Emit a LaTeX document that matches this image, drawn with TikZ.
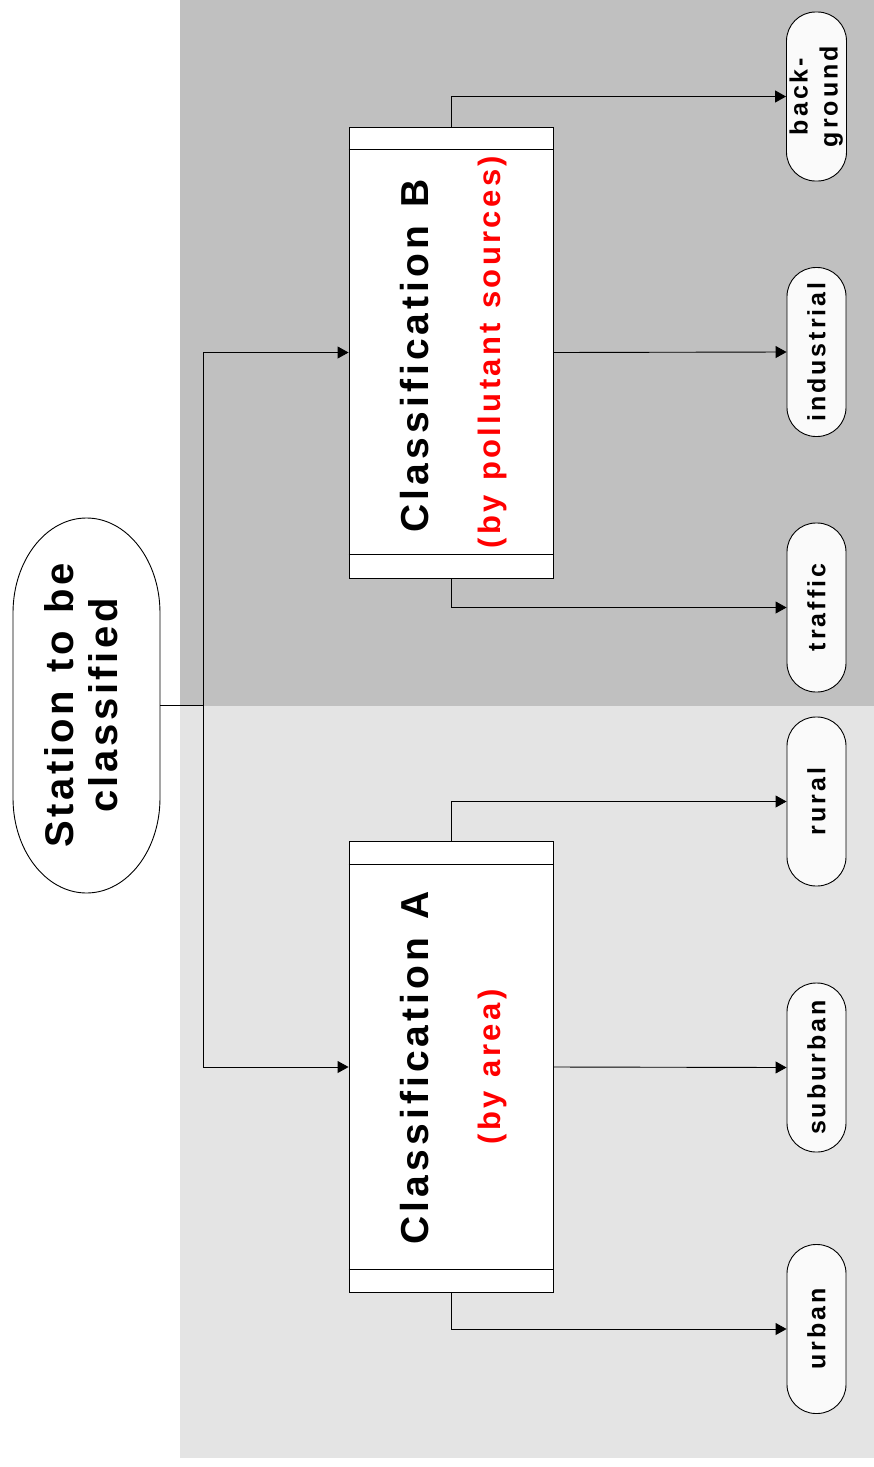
\documentclass[tikz,border=0pt]{standalone}
\usepackage{fontspec}
\setmainfont{Liberation Sans}
\usetikzlibrary{arrows.meta}
\definecolor{darkbg}{HTML}{C0C0C0}
\definecolor{lightbg}{HTML}{E4E4E4}
\definecolor{leaf}{HTML}{FAFAFA}
\newcommand{\rot}[1]{\rotatebox{90}{#1}}
\newcommand{\stfont}{\fontsize{40}{45}\selectfont\bfseries\addfontfeatures{LetterSpace=9}\spaceskip=0.45em\relax}
\newcommand{\ttlfont}{\fontsize{39}{44}\selectfont\bfseries\addfontfeatures{LetterSpace=10.5}\spaceskip=0.45em\relax}
\newcommand{\subfont}{\fontsize{31}{36}\selectfont\bfseries\addfontfeatures{LetterSpace=11}\spaceskip=0.45em\relax}
\newcommand{\lffont}{\fontsize{25}{30}\selectfont\bfseries\addfontfeatures{LetterSpace=12}}
\begin{document}
\begin{tikzpicture}[x=1pt,y=-1pt,
  station/.style={draw=none, minimum width=147pt, minimum height=375pt, inner sep=0pt},
  classbox/.style={draw=black, line width=0.9pt, fill=white, minimum width=204pt, minimum height=451pt, inner sep=0pt},
  stadium/.style={draw=black, line width=0.9pt, fill=leaf, minimum width=59pt, minimum height=169pt, rounded corners=29pt, inner sep=0pt},
  ttl/.style={rotate=90, inner sep=0pt, font=\ttlfont},
  subttl/.style={rotate=90, inner sep=0pt, font=\subfont, text=red},
  conn/.style={line width=0.9pt, -{Triangle[length=11pt,width=12pt]}},
  plain/.style={line width=0.9pt}
]
\useasboundingbox (0,0) rectangle (874,1467);
\fill[darkbg] (180,0) rectangle (874,706);
\fill[lightbg] (180,706) rectangle (874,1458);

% station outline with elliptical ends
\draw[plain, fill=white] (13,613) arc[start angle=180, end angle=0, x radius=73.5pt, y radius=95pt]
  -- (160,798) arc[start angle=0, end angle=-180, x radius=73.5pt, y radius=95pt] -- cycle;
\node[station] (st) at (86.5,705.5) {\rot{\stfont\begin{tabular}{@{}c@{}}Station to be\\classified\end{tabular}}};

\node[classbox] (B) at (451,352.5) {};
\node[classbox] (A) at (451,1067) {};
\draw[plain] ([yshift=-23pt]B.north west) -- ([yshift=-23pt]B.north east);
\draw[plain] ([yshift=24pt]B.south west) -- ([yshift=24pt]B.south east);
\draw[plain] ([yshift=-23pt]A.north west) -- ([yshift=-23pt]A.north east);
\draw[plain] ([yshift=24pt]A.south west) -- ([yshift=24pt]A.south east);

\node[ttl] (Bt) at (415,356) {Classification B};
\node[subttl] (Bs) at (492,352) {(by pollutant sources)};
\node[ttl] (At) at (415,1068) {Classification A};
\node[subttl] (As) at (492,1067) {(by area)};

\node[stadium] (bg) at (816.5,96.5) {\rot{\lffont\begin{tabular}{@{}c@{}}back-\\ground\end{tabular}}};
\node[stadium] (ind) at (816.5,352) {\rot{\lffont industrial}};
\node[stadium] (tra) at (816.5,607.5) {\rot{\lffont traffic}};
\node[stadium] (rur) at (816.5,801.5) {\rot{\lffont rural}};
\node[stadium] (sub) at (816.5,1067.5) {\rot{\lffont suburban}};
\node[stadium] (urb) at (816.5,1329) {\rot{\lffont urban}};

\coordinate (j) at (203,705.5);
\draw[plain] (st.east) -- (j);
\draw[conn] (j) |- (B.west);
\draw[conn] (j) |- (A.west);
\draw[conn] (B.north) |- (bg.west);
\draw[conn] (B.east) -- (ind.west);
\draw[conn] (B.south) |- (tra.west);
\draw[conn] (A.north) |- (rur.west);
\draw[conn] (A.east) -- (sub.west);
\draw[conn] (A.south) |- (urb.west);
\end{tikzpicture}
\end{document}
